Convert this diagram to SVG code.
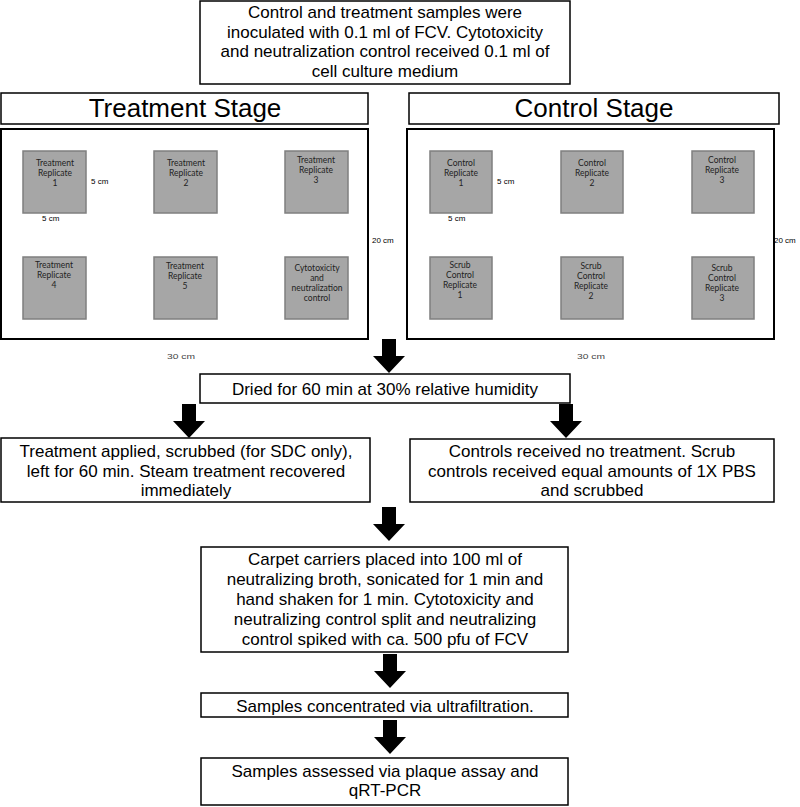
<svg xmlns="http://www.w3.org/2000/svg" xmlns:xlink="http://www.w3.org/1999/xlink" width="800" height="807" viewBox="0 0 800 807">
<style>
.box{fill:#fff;stroke:#000;stroke-width:1.5}
.panel{fill:#fff;stroke:#000;stroke-width:2}
.sq{fill:#a6a6a6;stroke:#7f7f7f;stroke-width:1.5}
.t{font-family:"Liberation Sans",Arial,sans-serif;font-size:17px;fill:#000;text-anchor:middle}
.h{font-family:"Liberation Sans",Arial,sans-serif;font-size:26px;fill:#000;text-anchor:middle}
.s{font-family:Lato,"Open Sans",sans-serif;font-size:8.5px;fill:#222;text-anchor:middle}
.d{font-family:"Liberation Sans",Arial,sans-serif;font-size:8px;fill:#000}
.d2{font-family:"Liberation Sans",Arial,sans-serif;font-size:7.5px;fill:#444}
.arrow{fill:#000}
</style>
<defs>
<path id="arr" d="M-7,-34 H7 V-17 H16 L0,0 L-16,-17 H-7 Z"/>
</defs>

<g id="connectors" class="arrow">
<use xlink:href="#arr" x="389" y="373"/>
<use xlink:href="#arr" x="189" y="438"/>
<use xlink:href="#arr" x="566" y="438"/>
<use xlink:href="#arr" x="389" y="541"/>
<use xlink:href="#arr" x="390" y="688"/>
<use xlink:href="#arr" x="390" y="754"/>
</g>

<g id="inoculation">
<rect class="box" x="200" y="1" width="370" height="83"/>
<text class="t" x="385" y="18">Control and treatment samples were</text>
<text class="t" x="385" y="37.5">inoculated with 0.1 ml of FCV. Cytotoxicity</text>
<text class="t" x="385" y="57">and neutralization control received 0.1 ml of</text>
<text class="t" x="385" y="77">cell culture medium</text>
</g>

<g id="treatment-header">
<rect class="box" x="1" y="93" width="367" height="31"/>
<text class="h" x="185" y="117">Treatment Stage</text>
</g>
<g id="control-header">
<rect class="box" x="409" y="93" width="370" height="31"/>
<text class="h" x="594" y="117">Control Stage</text>
</g>

<g id="treatment-panel">
<rect class="panel" x="1" y="129" width="367" height="210"/>
<text class="d" x="91" y="184">5 cm</text>
<text class="d" x="42" y="221">5 cm</text>
<text class="d" x="372" y="243">20 cm</text>
<text class="d2" x="167" y="359" textLength="28" lengthAdjust="spacingAndGlyphs">30 cm</text>
</g>
<g id="tr1"><rect class="sq" x="23" y="151" width="63" height="62"/><text class="s" x="55" y="166">Treatment</text><text class="s" x="55" y="176">Replicate</text><text class="s" x="55" y="186">1</text></g>
<g id="tr2"><rect class="sq" x="154" y="151" width="63" height="62"/><text class="s" x="186" y="166">Treatment</text><text class="s" x="186" y="176">Replicate</text><text class="s" x="186" y="186">2</text></g>
<g id="tr3"><rect class="sq" x="285" y="151" width="63" height="62"/><text class="s" x="316" y="163">Treatment</text><text class="s" x="316" y="173">Replicate</text><text class="s" x="316" y="183">3</text></g>
<g id="tr4"><rect class="sq" x="23" y="257" width="63" height="62"/><text class="s" x="54" y="268">Treatment</text><text class="s" x="54" y="278">Replicate</text><text class="s" x="54" y="288">4</text></g>
<g id="tr5"><rect class="sq" x="154" y="257" width="63" height="62"/><text class="s" x="185" y="269">Treatment</text><text class="s" x="185" y="279">Replicate</text><text class="s" x="185" y="289">5</text></g>
<g id="cyto"><rect class="sq" x="285" y="257" width="63" height="62"/><text class="s" x="317" y="271">Cytotoxicity</text><text class="s" x="317" y="281">and</text><text class="s" x="317" y="291">neutralization</text><text class="s" x="317" y="301">control</text></g>

<g id="control-panel">
<rect class="panel" x="407" y="129" width="367" height="210"/>
<text class="d" x="497" y="184">5 cm</text>
<text class="d" x="448" y="221">5 cm</text>
<text class="d" x="774" y="243">20 cm</text>
<text class="d2" x="577" y="359" textLength="28" lengthAdjust="spacingAndGlyphs">30 cm</text>
</g>
<g id="cr1"><rect class="sq" x="430" y="151" width="62" height="62"/><text class="s" x="461" y="166">Control</text><text class="s" x="461" y="176">Replicate</text><text class="s" x="461" y="186">1</text></g>
<g id="cr2"><rect class="sq" x="561" y="151" width="62" height="62"/><text class="s" x="592" y="166">Control</text><text class="s" x="592" y="176">Replicate</text><text class="s" x="592" y="186">2</text></g>
<g id="cr3"><rect class="sq" x="692" y="151" width="62" height="62"/><text class="s" x="722" y="163">Control</text><text class="s" x="722" y="173">Replicate</text><text class="s" x="722" y="183">3</text></g>
<g id="sc1"><rect class="sq" x="430" y="257" width="62" height="62"/><text class="s" x="460" y="268">Scrub</text><text class="s" x="460" y="278">Control</text><text class="s" x="460" y="288">Replicate</text><text class="s" x="460" y="298">1</text></g>
<g id="sc2"><rect class="sq" x="561" y="257" width="62" height="62"/><text class="s" x="591" y="269">Scrub</text><text class="s" x="591" y="279">Control</text><text class="s" x="591" y="289">Replicate</text><text class="s" x="591" y="299">2</text></g>
<g id="sc3"><rect class="sq" x="692" y="257" width="62" height="62"/><text class="s" x="722" y="271">Scrub</text><text class="s" x="722" y="281">Control</text><text class="s" x="722" y="291">Replicate</text><text class="s" x="722" y="301">3</text></g>

<g id="dried">
<rect class="box" x="200" y="374" width="370" height="29"/>
<text class="t" x="385" y="395">Dried for 60 min at 30% relative humidity</text>
</g>

<g id="treatment-applied">
<rect class="box" x="1" y="438" width="369" height="64"/>
<text class="t" x="186" y="457">Treatment applied, scrubbed (for SDC only),</text>
<text class="t" x="186" y="476.5">left for 60 min. Steam treatment recovered</text>
<text class="t" x="186" y="496">immediately</text>
</g>

<g id="controls-no-treatment">
<rect class="box" x="410" y="439" width="364" height="63"/>
<text class="t" x="592" y="457">Controls received no treatment. Scrub</text>
<text class="t" x="592" y="476.5">controls received equal amounts of 1X PBS</text>
<text class="t" x="592" y="496">and scrubbed</text>
</g>

<g id="carpet-carriers">
<rect class="box" x="201" y="547" width="367" height="105"/>
<text class="t" x="385" y="565">Carpet carriers placed into 100 ml of</text>
<text class="t" x="385" y="585">neutralizing broth, sonicated for 1 min and</text>
<text class="t" x="385" y="605">hand shaken for 1 min. Cytotoxicity and</text>
<text class="t" x="385" y="625">neutralizing control split and neutralizing</text>
<text class="t" x="385" y="645">control spiked with ca. 500 pfu of FCV</text>
</g>

<g id="ultrafiltration">
<rect class="box" x="201" y="693" width="367" height="24"/>
<text class="t" x="385" y="712">Samples concentrated via ultrafiltration.</text>
</g>

<g id="assessed">
<rect class="box" x="201" y="758" width="367" height="47"/>
<text class="t" x="385" y="777">Samples assessed via plaque assay and</text>
<text class="t" x="385" y="796">qRT-PCR</text>
</g>
</svg>
